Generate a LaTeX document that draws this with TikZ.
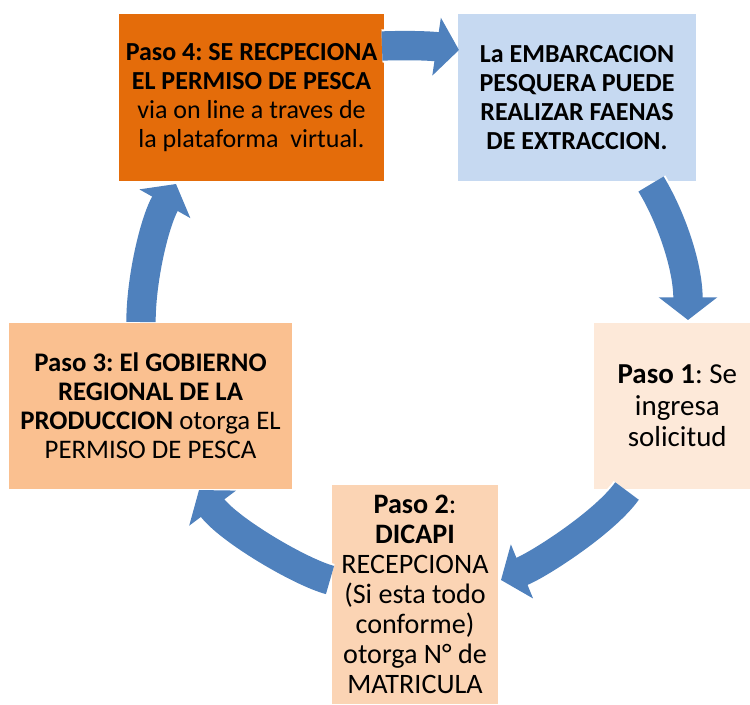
\documentclass[tikz,border=0pt]{standalone}
\usepackage{fontspec}
\setmainfont{Carlito}
\usetikzlibrary{arrows.meta}
\definecolor{arrowblue}{HTML}{4F81BD}
\definecolor{stepfour}{HTML}{E46C0A}
\definecolor{boatblue}{HTML}{C6D9F1}
\definecolor{stepone}{HTML}{FDE9D9}
\definecolor{steptwo}{HTML}{FBD4B4}
\definecolor{stepthree}{HTML}{FAC090}
\tikzset{
  box/.style={inner sep=0pt, align=center, font=\frenchspacing\fontsize{19.5pt}{21.75pt}\selectfont},
  fs/.style 2 args={font=\frenchspacing\fontsize{#1}{#2}\selectfont},
  cyc/.style={draw=arrowblue, line width=22pt, -{Triangle[width=43pt,length=17pt]},
    preaction={draw=white, line width=25pt, -{Triangle[width=48pt,length=19pt]}}}
}
\begin{document}
\begin{tikzpicture}[x=0.75pt,y=-0.75pt]
  \useasboundingbox (0,0) rectangle (750,704);
  % the five steps of the cycle
  \node[box, fill=stepfour, minimum width=198.75pt, minimum height=125.25pt] (p4) at (251.5,97.5)
    {\textbf{Paso 4: SE RECPECIONA}\\\textbf{EL PERMISO DE PESCA}\\via on line a traves de\\la plataforma~ virtual.};
  \node[box, fill=boatblue, minimum width=178.5pt, minimum height=125.25pt] (emb) at (577,97.5)
    {\textbf{La EMBARCACION}\\\textbf{PESQUERA PUEDE}\\\textbf{REALIZAR FAENAS}\\\textbf{DE EXTRACCION.}};
  \node[box, fs={21.7pt}{23.6pt}, fill=stepone, minimum width=117pt, minimum height=124.5pt] (p1) at (672,406)
    {\hspace*{8pt}\textbf{Paso 1}: Se\\\hspace*{8pt}ingresa\\\hspace*{8pt}solicitud};
  \node[box, fs={21.1pt}{22.5pt}, fill=steptwo, minimum width=124.5pt, minimum height=164.25pt] (p2) at (415,594.5)
    {\textbf{Paso 2}:\\\textbf{DICAPI}\\RECEPCIONA\\(Si esta todo\\conforme)\\otorga N° de\\MATRICULA};
  \node[box, fs={20.1pt}{21.75pt}, fill=stepthree, minimum width=212.25pt, minimum height=124.5pt] (p3) at (150.5,406)
    {\textbf{Paso 3: El GOBIERNO}\\\textbf{REGIONAL DE LA}\\\textbf{PRODUCCION} otorga EL\\PERMISO DE PESCA};

  % arrow ends
  \foreach \n/\x/\y in {t1/382/46, h1/459/50, t2/651/184, h2/688/320, t3/627/491,
      h3/501/580, t4/330/580, h4/199/490, t5/141/322, h5/176/184}{
    \coordinate (\n) at (\x,\y);
  }
  \draw[cyc] (t1) .. controls (410,45) and (432,46) .. (h1);
  \draw[cyc] (t2) .. controls (670,215) and (688,265) .. (h2);
  \draw[cyc] (t3) .. controls (605,522) and (540,564) .. (h3);
  \draw[cyc] (t4) .. controls (300,572) and (229,530) .. (h4);
  \draw[cyc] (t5) .. controls (141,280) and (154,223) .. (h5);
\end{tikzpicture}
\end{document}
